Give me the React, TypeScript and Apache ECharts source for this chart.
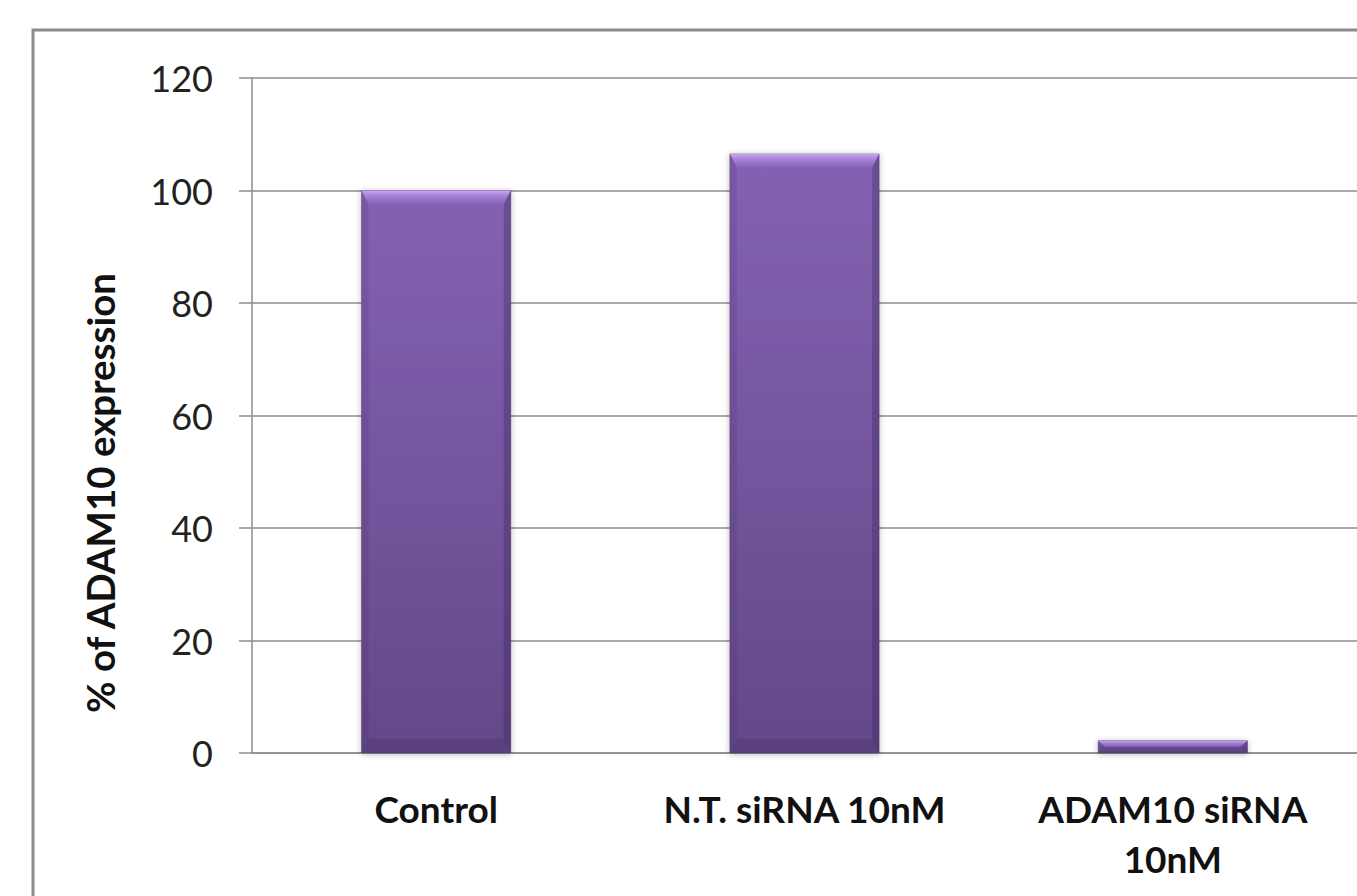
import React, { useEffect, useRef } from "react";
import * as echarts from "echarts";

// Treatment groups and relative ADAM10 expression (% of control)
const categories = ["Control", "N.T. siRNA 10nM", "ADAM10 siRNA\n10nM"];
const expression = [100, 106.5, 2.2];
const yTicks = { min: 0, max: 120, interval: 20 };
const yTitle = "% of ADAM10 expression";

const FONT = "Lato, 'Open Sans', sans-serif";

function renderBevelBar(params: any, api: any) {
  const idx = api.value(0);
  const val = api.value(1);
  const top = api.coord([idx, val]);
  const base = api.coord([idx, 0]);
  const bw = api.size([1, 0])[0] * 0.405;
  const x0 = top[0] - bw / 2;
  const x1 = x0 + bw;
  const y0 = top[1];
  const y1 = base[1];
  const h = y1 - y0;
  const b = Math.min(14, h / 2);
  const s = Math.min(7, bw / 4);

  return {
    type: "group",
    children: [
      {
        type: "rect",
        shape: { x: x0, y: y0, width: bw, height: h },
        style: {
          fill: new echarts.graphic.LinearGradient(0, 0, 0, 1, [
            { offset: 0, color: "#8562b3" },
            { offset: 1, color: "#634889" },
          ]),
          stroke: "rgba(90,70,110,0.55)",
          lineWidth: 1,
          shadowBlur: 6,
          shadowColor: "rgba(0,0,0,0.28)",
          shadowOffsetX: 0,
          shadowOffsetY: 1,
        },
      },
      {
        // top bevel highlight
        type: "polygon",
        shape: {
          points: [
            [x0, y0],
            [x1, y0],
            [x1 - s, y0 + b],
            [x0 + s, y0 + b],
          ],
        },
        style: {
          fill: new echarts.graphic.LinearGradient(0, 0, 0, 1, [
            { offset: 0, color: "#caa6f6" },
            { offset: 0.35, color: "#a883d8" },
            { offset: 1, color: "#8562b3" },
          ]),
        },
      },
      {
        // left bevel
        type: "polygon",
        shape: {
          points: [
            [x0, y0],
            [x0 + s, y0 + b],
            [x0 + s, y1 - b],
            [x0, y1],
          ],
        },
        style: { fill: "rgba(70,45,110,0.18)" },
      },
      {
        // right bevel
        type: "polygon",
        shape: {
          points: [
            [x1, y0],
            [x1 - s, y0 + b],
            [x1 - s, y1 - b],
            [x1, y1],
          ],
        },
        style: { fill: "rgba(50,30,80,0.3)" },
      },
      {
        // bottom bevel
        type: "polygon",
        shape: {
          points: [
            [x0, y1],
            [x0 + s, y1 - b],
            [x1 - s, y1 - b],
            [x1, y1],
          ],
        },
        style: { fill: "rgba(50,30,80,0.18)" },
      },
    ],
  };
}

export default function App() {
  const ref = useRef<HTMLDivElement>(null);

  useEffect(() => {
    if (!ref.current) return;
    const chart = echarts.init(ref.current, undefined, { renderer: "svg" });
    chart.setOption({
      animation: false,
      backgroundColor: "#ffffff",
      graphic: [
        {
          type: "rect",
          shape: { x: 33, y: 30, width: 1400, height: 950 },
          style: { fill: "none", stroke: "#8a8a8a", lineWidth: 3 },
          z: -1,
        },
        {
          // value axis title
          type: "text",
          x: 100,
          y: 493,
          rotation: Math.PI / 2,
          style: {
            text: yTitle,
            fill: "#111",
            font: `bold 38.5px ${FONT}`,
            align: "center",
            verticalAlign: "middle",
          },
        },
      ],
      grid: { left: 252, right: 0, top: 78, bottom: 143 },
      xAxis: {
        type: "category",
        data: categories,
        axisLine: { show: true, lineStyle: { color: "#8c8c8c", width: 1.5 } },
        axisTick: { show: false },
        axisLabel: {
          interval: 0,
          hideOverlap: false,
          color: "#111",
          fontFamily: FONT,
          fontWeight: "bold",
          fontSize: 37,
          lineHeight: 50,
          margin: 30,
        },
      },
      yAxis: {
        type: "value",
        min: yTicks.min,
        max: yTicks.max,
        interval: yTicks.interval,
        axisLine: { show: true, lineStyle: { color: "#8c8c8c", width: 1.5 } },
        axisTick: { show: true, length: 13, lineStyle: { color: "#8c8c8c", width: 1.5 } },
        axisLabel: {
          color: "#222",
          fontFamily: FONT,
          fontSize: 36,
          margin: 39,
        },
        splitLine: { show: true, lineStyle: { color: "#8c8c8c", width: 1.5 } },
      },
      series: [
        {
          type: "custom",
          renderItem: renderBevelBar,
          encode: { x: 0, y: 1 },
          data: expression.map((v, i) => [i, v]),
          clip: false,
        },
      ],
    });
    return () => chart.dispose();
  }, []);

  return (
    <div
      ref={ref}
      style={{ position: "fixed", left: 0, top: 0, width: 1357, height: 896 }}
    />
  );
}
